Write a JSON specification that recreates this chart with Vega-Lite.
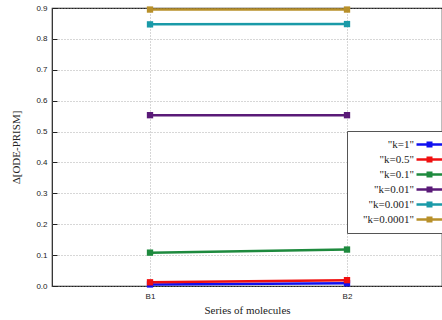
{
  "$schema": "https://vega.github.io/schema/vega-lite/v6.json",
  "width": 390,
  "height": 278,
  "autosize": "none",
  "padding": {"left": 52, "top": 8, "right": 0, "bottom": 34},
  "background": "white",
  "config": {
    "view": {"stroke": "#222", "strokeWidth": 1.2},
    "axis": {
      "gridColor": "#999", "gridDash": [1, 2], "gridWidth": 0.8,
      "domain": false,
      "labelFont": "Liberation Sans", "labelFontSize": 8, "labelColor": "#222",
      "titleFont": "Liberation Serif", "titleFontSize": 11, "titleFontWeight": "normal", "titleColor": "#222",
      "tickColor": "#222", "tickWidth": 1
    }
  },
  "data": {"values": [
    {"mol": 1, "series": "k=1", "v": 0.005},
    {"mol": 2, "series": "k=1", "v": 0.009},
    {"mol": 1, "series": "k=0.5", "v": 0.012},
    {"mol": 2, "series": "k=0.5", "v": 0.019},
    {"mol": 1, "series": "k=0.1", "v": 0.108},
    {"mol": 2, "series": "k=0.1", "v": 0.118},
    {"mol": 1, "series": "k=0.01", "v": 0.553},
    {"mol": 2, "series": "k=0.01", "v": 0.553},
    {"mol": 1, "series": "k=0.001", "v": 0.847},
    {"mol": 2, "series": "k=0.001", "v": 0.848},
    {"mol": 1, "series": "k=0.0001", "v": 0.895},
    {"mol": 2, "series": "k=0.0001", "v": 0.895}
  ]},
  "encoding": {
    "x": {"field": "mol", "type": "quantitative",
      "scale": {"domain": [0.5025, 2.4822], "nice": false, "zero": false},
      "axis": {"values": [1, 2], "labelExpr": "'B' + datum.value", "title": "Series of molecules",
        "tickSize": -5, "labelPadding": 11, "titlePadding": 4}},
    "y": {"field": "v", "type": "quantitative",
      "scale": {"domain": [0, 0.9], "nice": false},
      "axis": {"values": [0, 0.1, 0.2, 0.3, 0.4, 0.5, 0.6, 0.7, 0.8, 0.9], "title": "Δ[ODE-PRISM]",
        "tickSize": -5, "labelPadding": 10, "titlePadding": 14, "labelFlush": false}},
    "color": {"field": "series", "type": "nominal",
      "scale": {"domain": ["k=1", "k=0.5", "k=0.1", "k=0.01", "k=0.001", "k=0.0001"],
        "range": ["#1010f0", "#f01010", "#1e8a3e", "#5a1a78", "#1a9aa8", "#b8902a"]},
      "legend": {
        "orient": "none", "legendX": 295, "legendY": 123,
        "title": null,
        "fillColor": "white", "strokeColor": "#555", "padding": 8,
        "symbolType": "M 14 -0.3 H 21.75 V 0.3 H 14 Z M 16.5 -0.75 H 18 V 0.75 H 16.5 Z",
        "symbolSize": 64,
        "symbolStrokeWidth": 0,
        "labelAlign": "right", "labelOffset": 48,
        "labelFont": "Liberation Serif", "labelFontSize": 11, "labelColor": "#222",
        "labelExpr": "'\"' + datum.label + '\"'",
        "labelLimit": 200,
        "rowPadding": 3,
        "encode": {"symbols": {"update": {"fill": {"scale": "color", "field": "value"}, "stroke": {"value": "transparent"}}}}
      }}
  },
  "layer": [
    {"mark": {"type": "line", "strokeWidth": 2.5}},
    {"mark": {"type": "square", "size": 40, "opacity": 1, "filled": true}}
  ]
}
